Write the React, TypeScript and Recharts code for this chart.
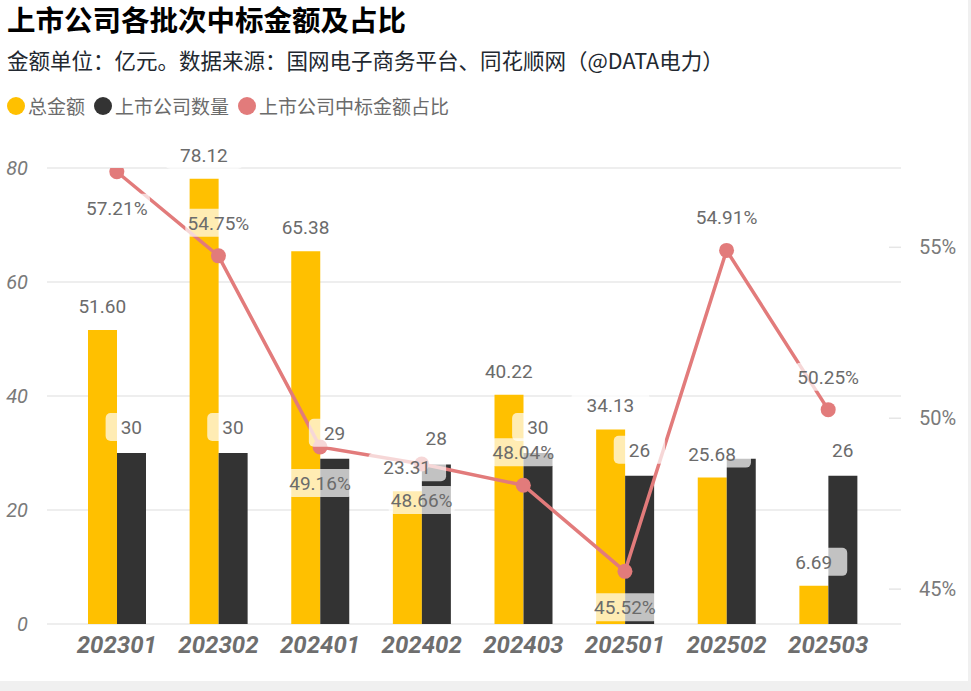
import { Bar, CartesianGrid, ComposedChart, LabelList, Line, XAxis, YAxis } from "recharts";

const batches = ["202301", "202302", "202401", "202402", "202403", "202501", "202502", "202503"];
const totalAmount = [51.6, 78.12, 65.38, 23.31, 40.22, 34.13, 25.68, 6.69];
const companyCount = [30, 30, 29, 28, 30, 26, 29, 26];
const listedShare = [57.21, 54.75, 49.16, 48.66, 48.04, 45.52, 54.91, 50.25];
const shareLabelSide = ["below", "above", "below", "below", "above", "below", "above", "above"];
const hiddenCountLabels = ["202502"];
const leftTicks = [0, 20, 40, 60, 80];
const rightTicks = [45, 50, 55];

const YELLOW = "#FFC000";
const DARK = "#333333";
const PINK = "#E27B7B";
const LABEL_GRAY = "#6b6b6b";
const NUM_FONT = "Roboto, 'Noto Sans', sans-serif";
const CJK_FONT = "'Noto Sans CJK SC', 'Noto Sans', sans-serif";

const rows = batches.map((batch, i) => ({
  batch,
  total: totalAmount[i],
  count: companyCount[i],
  share: listedShare[i],
}));

// rough advance widths for Roboto 19px
const textWidth = (s: string) =>
  [...s].reduce((w, c) => w + (c === "." ? 5 : c === "%" ? 14.5 : 10.7), 0);

function BoxLabel({ cx, cy, text, pad }: { cx: number; cy: number; text: string; pad: number }) {
  const w = textWidth(text) + pad;
  return (
    <g>
      <rect x={cx - w / 2} y={cy - 14} width={w} height={28} rx={5} fill="#fff" fillOpacity={0.7} />
      <text x={cx} y={cy + 7} textAnchor="middle" fontSize={19} fontFamily={NUM_FONT} fill={LABEL_GRAY}>
        {text}
      </text>
    </g>
  );
}

const totalLabel = (p: any) => (
  <BoxLabel cx={p.x - 14.5} cy={p.y - 24} text={Number(p.value).toFixed(2)} pad={30} />
);

const countLabel = (p: any) => {
  if (hiddenCountLabels.includes(batches[p.index])) return null;
  return <BoxLabel cx={p.x + 14.5} cy={p.y - 26} text={String(p.value)} pad={30} />;
};

const shareLabel = (p: any) => {
  const below = shareLabelSide[p.index] === "below";
  return (
    <BoxLabel cx={p.x} cy={below ? p.y + 36 : p.y - 33} text={`${Number(p.value).toFixed(2)}%`} pad={4} />
  );
};

const XTick = ({ x, y, payload }: any) => (
  <text
    x={x}
    y={y + 29}
    textAnchor="middle"
    fontSize={24}
    fontWeight={700}
    fontStyle="italic"
    fontFamily={NUM_FONT}
    fill="#6e6e6e"
  >
    {payload.value}
  </text>
);

const LeftTick = ({ y, payload }: any) => (
  <text x={28} y={y + 7} textAnchor="end" fontSize={20} fontStyle="italic" fontFamily={NUM_FONT} fill="#7a7a7a">
    {payload.value}
  </text>
);

const RightTick = ({ x, y, payload }: any) => (
  <g>
    <line x1={x - 12} x2={x} y1={y} y2={y} stroke="#e6e6e6" strokeWidth={1.5} />
    <text x={x + 18} y={y + 7} fontSize={20} fontFamily={NUM_FONT} fill="#7a7a7a">
      {payload.value}%
    </text>
  </g>
);

const legendItems = [
  { name: "总金额", color: YELLOW },
  { name: "上市公司数量", color: DARK },
  { name: "上市公司中标金额占比", color: PINK },
];

export default function App() {
  return (
    <div style={{ position: "absolute", left: 0, top: 0, width: 971, height: 691, background: "#f0f0f0" }}>
      <div style={{ position: "absolute", left: 0, top: 0, width: 968, height: 681, background: "#fff" }} />
      <div
        style={{
          position: "absolute",
          left: 7,
          top: 0,
          fontSize: 28.5,
          lineHeight: "37px",
          fontWeight: 700,
          fontFamily: CJK_FONT,
          color: "#000",
          whiteSpace: "nowrap",
        }}
      >
        上市公司各批次中标金额及占比
      </div>
      <div
        style={{
          position: "absolute",
          left: 7,
          top: 45,
          fontSize: 21.5,
          lineHeight: "30px",
          fontFamily: CJK_FONT,
          color: "#222830",
          whiteSpace: "nowrap",
        }}
      >
        金额单位：亿元。数据来源：国网电子商务平台、同花顺网（@DATA电力）
      </div>
      <div
        style={{
          position: "absolute",
          left: 7,
          top: 92,
          display: "flex",
          alignItems: "center",
          fontSize: 19,
          lineHeight: "28px",
          fontFamily: CJK_FONT,
          color: "#6b6b6b",
          whiteSpace: "nowrap",
        }}
      >
        {legendItems.map((it) => (
          <div key={it.name} style={{ display: "flex", alignItems: "center", marginRight: 9 }}>
            <span
              style={{
                display: "inline-block",
                width: 18,
                height: 18,
                borderRadius: 9,
                background: it.color,
                marginRight: 3,
              }}
            />
            {it.name}
          </div>
        ))}
      </div>
      <div style={{ position: "absolute", left: 0, top: 0 }}>
        <ComposedChart
          width={971}
          height={691}
          data={rows}
          margin={{ top: 168, right: 0, bottom: 0, left: 0 }}
          barGap={0}
        >
          <CartesianGrid yAxisId="left" vertical={false} stroke="#e8e8e8" strokeWidth={1.5} />
          <XAxis
            dataKey="batch"
            height={67}
            padding={{ left: 19, right: 22 }}
            axisLine={false}
            tickLine={false}
            tickSize={0}
            tickMargin={0}
            tick={<XTick />}
            interval={0}
          />
          <YAxis
            yAxisId="left"
            width={47}
            domain={[0, 80]}
            ticks={leftTicks}
            axisLine={false}
            tickLine={false}
            tick={<LeftTick />}
          />
          <YAxis
            yAxisId="right"
            orientation="right"
            width={70}
            domain={[43.98, 57.32]}
            allowDataOverflow
            ticks={rightTicks}
            axisLine={false}
            tickLine={false}
            tickSize={0}
            tickMargin={0}
            tick={<RightTick />}
          />
          <Bar yAxisId="left" dataKey="total" fill={YELLOW} barSize={29} isAnimationActive={false} />
          <Bar yAxisId="left" dataKey="count" fill={DARK} barSize={29} isAnimationActive={false} />
          <Line
            yAxisId="right"
            dataKey="share"
            stroke={PINK}
            strokeWidth={3.5}
            dot={{ r: 7.5, fill: PINK, stroke: "none" }}
            activeDot={false}
            isAnimationActive={false}
          />
          {/* label-only layers, drawn last so the boxes sit over bars and line */}
          <Line yAxisId="left" dataKey="total" stroke="none" dot={false} activeDot={false} legendType="none" isAnimationActive={false}>
            <LabelList dataKey="total" content={totalLabel} />
          </Line>
          <Line yAxisId="left" dataKey="count" stroke="none" dot={false} activeDot={false} legendType="none" isAnimationActive={false}>
            <LabelList dataKey="count" content={countLabel} />
          </Line>
          <Line yAxisId="right" dataKey="share" stroke="none" dot={false} activeDot={false} legendType="none" isAnimationActive={false}>
            <LabelList dataKey="share" content={shareLabel} />
          </Line>
        </ComposedChart>
      </div>
    </div>
  );
}
